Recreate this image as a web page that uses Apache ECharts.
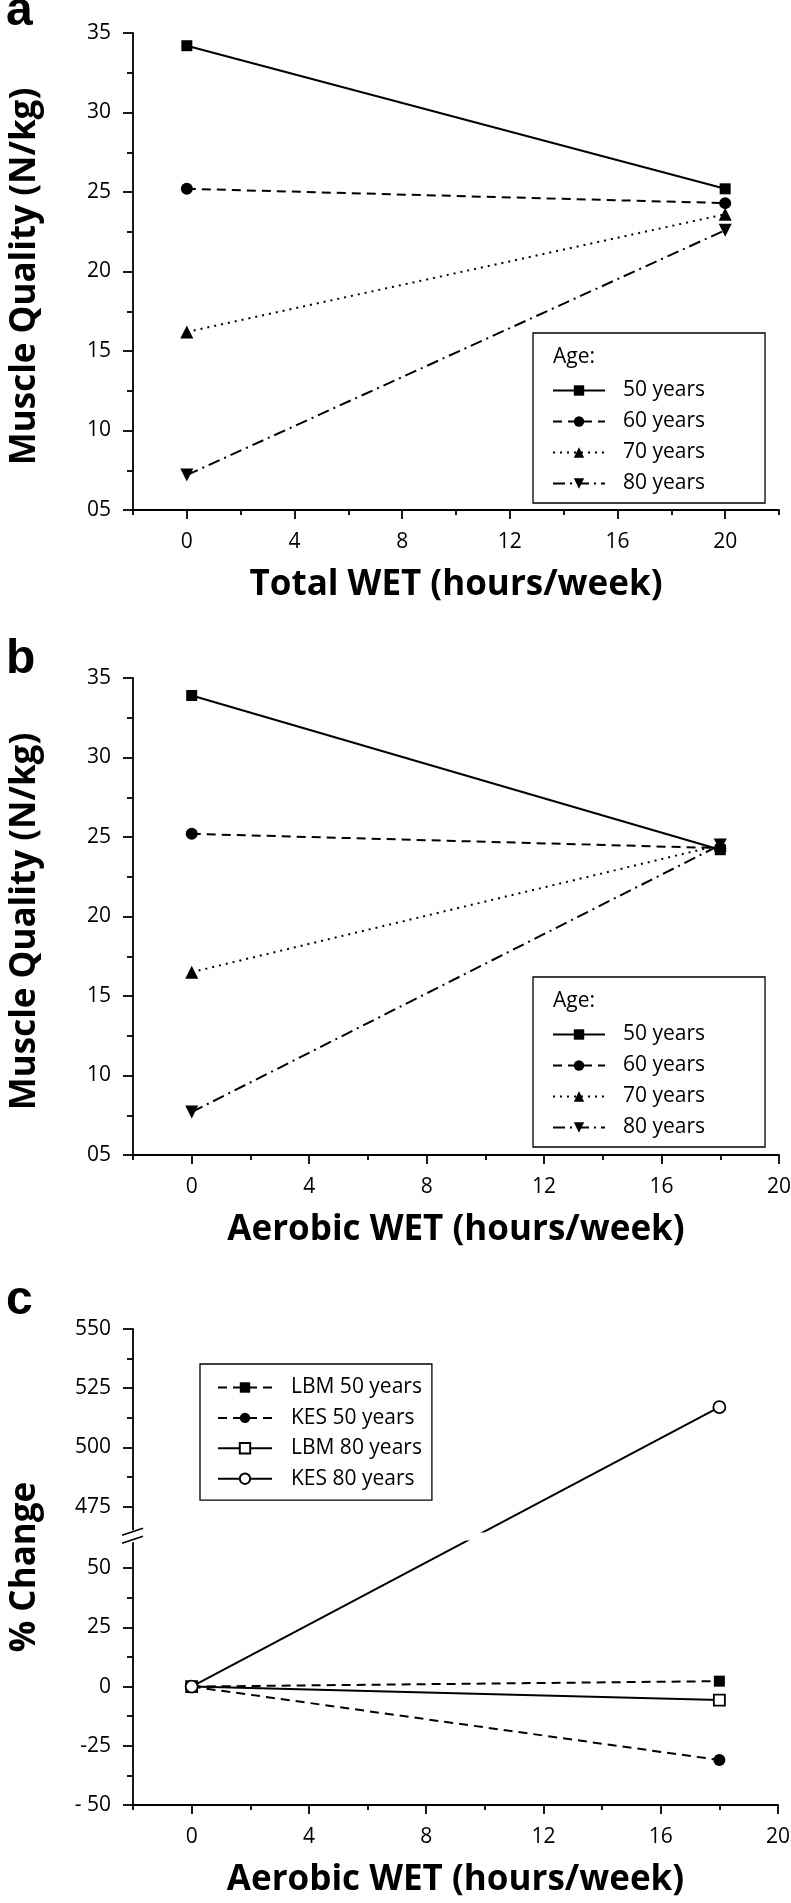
<!DOCTYPE html>
<html><head><meta charset="utf-8">
<script src="https://cdn.jsdelivr.net/npm/echarts@6/dist/echarts.min.js"></script>
<style>html,body{margin:0;padding:0;background:#fff}#c{width:791px;height:1903px}</style>
</head><body><div id="c"></div>
<script>
// ---------- data ----------
const hoursTotal = [0, 20];          // panel a x values (Total WET)
const hoursAerobic = [0, 18];        // panel b & c x values (Aerobic WET)
const ageNames = ['50 years', '60 years', '70 years', '80 years'];
// panel a: Muscle quality (N/kg) vs Total WET
const a50 = [34.2, 25.2];
const a60 = [25.2, 24.3];
const a70 = [16.2, 23.6];
const a80 = [7.2, 22.6];
// panel b: Muscle quality (N/kg) vs Aerobic WET
const b50 = [33.9, 24.2];
const b60 = [25.2, 24.3];
const b70 = [16.5, 24.5];
const b80 = [7.7, 24.5];
// panel c: % change vs Aerobic WET
const cNames = ['LBM 50 years', 'KES 50 years', 'LBM 80 years', 'KES 80 years'];
const lbm50 = [0, 2.3];
const kes50 = [0, -31];
const lbm80 = [0, -5.7];
const kes80 = [0, 517];
// tick values
const xMajorTicks = [0, 4, 8, 12, 16, 20];
const xMinorTicksA = [-2, 2, 6, 10, 14, 18, 22];
const xMinorTicksB = [-2, 2, 6, 10, 14, 18];
const cMajorTicks = [-50, -25, 0, 25, 50, 475, 500, 525, 550];
const cMinorTicks = [-37.5, -12.5, 12.5, 37.5, 487.5, 512.5, 537.5];

// ---------- styling ----------
const FONT = '"Open Sans", sans-serif';
const BLACK = '#000';
const AX = { color: BLACK, width: 1.8 };
const DASH = [9, 6];
const DOT = [2, 5];
const DASHDOT = [12, 5, 2, 5];
const C_BREAK = [{ start: 62, end: 464, gap: '1.5%' }];

const grids = [
  { left: 133, top: 33, width: 646, height: 477 },
  { left: 133, top: 678, width: 646, height: 477 },
  { left: 133, top: 1329, width: 645, height: 476 }
];

const TITLE_STYLE = { fontFamily: FONT, fontWeight: 'bold', fontSize: 35, color: BLACK };
const YTITLE_STYLE = Object.assign({ padding: [0, 10, 0, 0] }, TITLE_STYLE);

function xMain(gi, max, name) {
  return {
    type: 'value', gridIndex: gi, min: -2, max: max, position: 'bottom',
    name: name, nameLocation: 'middle', nameGap: 58,
    nameTextStyle: TITLE_STYLE,
    axisLine: { show: true, onZero: false, lineStyle: AX },
    axisTick: { show: true, customValues: xMajorTicks, length: 9, lineStyle: AX },
    axisLabel: { show: true, customValues: xMajorTicks, margin: 22, fontFamily: FONT, fontSize: 21, color: BLACK },
    splitLine: { show: false }
  };
}
function xMinor(gi, max, vals) {
  return {
    type: 'value', gridIndex: gi, min: -2, max: max, position: 'bottom',
    axisLine: { show: false, onZero: false },
    axisTick: { show: true, customValues: vals, length: 5, lineStyle: AX },
    axisLabel: { show: false },
    splitLine: { show: false }
  };
}
function yMQ(gi) {
  return {
    type: 'value', gridIndex: gi, min: 5, max: 35, interval: 5,
    name: 'Muscle Quality (N/kg)', nameLocation: 'middle', nameGap: 90, nameRotate: 90,
    nameTextStyle: YTITLE_STYLE,
    axisLine: { show: true, onZero: false, lineStyle: AX },
    axisTick: { show: true, length: 10, lineStyle: AX },
    minorTick: { show: true, splitNumber: 2, length: 6, lineStyle: AX },
    axisLabel: { margin: 22, fontFamily: FONT, fontSize: 21, color: BLACK,
      formatter: v => (v === 5 ? '05' : String(v)) },
    splitLine: { show: false }, minorSplitLine: { show: false }
  };
}

function pts(xs, ys) { return xs.map((x, i) => [x, ys[i]]); }
function ser(name, xi, yi, xs, ys, type, symbol, size, extra) {
  return Object.assign({
    name: name, type: 'line', xAxisIndex: xi, yAxisIndex: yi,
    data: pts(xs, ys), symbol: symbol, symbolSize: size, showSymbol: true,
    lineStyle: { color: BLACK, width: 2, type: type },
    itemStyle: { color: BLACK, borderColor: BLACK, borderWidth: 0 },
    emphasis: { disabled: true }, animation: false, z: 3
  }, extra || {});
}

const agesA = [a50, a60, a70, a80];
const agesB = [b50, b60, b70, b80];
const lineTypes = ['solid', DASH, DOT, DASHDOT];
const symbols = ['rect', 'circle', 'triangle', 'triangle'];
const sizes = [11, 12, 13, 13];
const rots = [0, 0, 0, 180];

const series = [];
ageNames.forEach((n, i) => {
  series.push(ser(n, 0, 0, hoursTotal, agesA[i], lineTypes[i], symbols[i], sizes[i], { symbolRotate: rots[i] }));
});
ageNames.forEach((n, i) => {
  series.push(ser(n, 2, 1, hoursAerobic, agesB[i], lineTypes[i], symbols[i], sizes[i], { symbolRotate: rots[i] }));
});
const hollow = { color: '#fff', borderColor: BLACK, borderWidth: 1.8 };
series.push(ser(cNames[0], 4, 2, hoursAerobic, lbm50, DASH, 'rect', 11));
series.push(ser(cNames[1], 4, 2, hoursAerobic, kes50, DASH, 'circle', 12));
series.push(ser(cNames[2], 4, 2, hoursAerobic, lbm80, 'solid', 'rect', 11, { itemStyle: hollow }));
series.push(ser(cNames[3], 4, 2, hoursAerobic, kes80, 'solid', 'circle', 12, { itemStyle: hollow }));

function legendAge(top) {
  return {
    data: ageNames.slice(), orient: 'vertical', left: 533, top: top,
    padding: [47, 60, 9, 19], itemWidth: 52, itemHeight: 13, itemGap: 10,
    borderColor: BLACK, borderWidth: 1.3, backgroundColor: '#fff',
    selectedMode: false,
    textStyle: { fontFamily: FONT, fontSize: 21, color: BLACK, lineHeight: 20, padding: [0, 0, 0, 13] }
  };
}
const LBL_FONT = '"Liberation Sans", Arial, sans-serif';

const option = {
  animation: false,
  backgroundColor: '#fff',
  grid: grids.map(g => Object.assign({ outerBoundsMode: 'none', containLabel: false }, g)),
  xAxis: [
    xMain(0, 22, 'Total WET (hours/week)'), xMinor(0, 22, xMinorTicksA),
    xMain(1, 20, 'Aerobic WET (hours/week)'), xMinor(1, 20, xMinorTicksB),
    xMain(2, 20, 'Aerobic WET (hours/week)'), xMinor(2, 20, xMinorTicksB)
  ],
  yAxis: [
    yMQ(0), yMQ(1),
    {
      type: 'value', gridIndex: 2, min: -50, max: 550, position: 'left',
      breaks: C_BREAK,
      breakArea: { show: true, itemStyle: { color: '#fff', borderColor: '#fff', borderWidth: 0, opacity: 1 },
        zigzagAmplitude: 0, expandOnClick: false },
      name: '% Change', nameLocation: 'middle', nameGap: 90, nameRotate: 90,
      nameTextStyle: TITLE_STYLE,
      axisLine: { show: true, onZero: false, lineStyle: AX },
      axisTick: { show: true, customValues: cMajorTicks, length: 10, lineStyle: AX },
      axisLabel: { customValues: cMajorTicks, margin: 22, fontFamily: FONT, fontSize: 21, color: BLACK,
        formatter: v => (v === -50 ? '- 50' : String(v)) },
      splitLine: { show: false }
    },
    {
      type: 'value', gridIndex: 2, min: -50, max: 550, position: 'left',
      breaks: C_BREAK,
      breakArea: { show: false },
      axisLine: { show: false, onZero: false },
      axisTick: { show: true, customValues: cMinorTicks, length: 6, lineStyle: AX },
      axisLabel: { show: false },
      splitLine: { show: false }
    }
  ],
  legend: [
    legendAge(333),
    legendAge(977),
    {
      data: cNames.slice(), orient: 'vertical', left: 200, top: 1364,
      padding: [13, 10, 11, 17], itemWidth: 54, itemHeight: 13, itemGap: 9.4,
      borderColor: BLACK, borderWidth: 1.3, backgroundColor: '#fff',
      selectedMode: false,
      textStyle: { fontFamily: FONT, fontSize: 21, color: BLACK, lineHeight: 20, padding: [0, 0, 0, 14] }
    }
  ],
  graphic: [
    { id: 'lblA', type: 'text', x: 6, y: 12, style: { text: 'a', fontFamily: LBL_FONT, fontWeight: 'bold', fontSize: 48, fill: BLACK, verticalAlign: 'middle' } },
    { id: 'lblB', type: 'text', x: 6, y: 660, style: { text: 'b', fontFamily: LBL_FONT, fontWeight: 'bold', fontSize: 48, fill: BLACK, verticalAlign: 'middle' } },
    { id: 'lblC', type: 'text', x: 6, y: 1301, style: { text: 'c', fontFamily: LBL_FONT, fontWeight: 'bold', fontSize: 48, fill: BLACK, verticalAlign: 'middle' } },
    { id: 'ageA', type: 'text', x: 553, y: 357, z: 100, style: { text: 'Age:', fontFamily: FONT, fontSize: 21, fill: BLACK, verticalAlign: 'middle' } },
    { id: 'ageB', type: 'text', x: 553, y: 1001, z: 100, style: { text: 'Age:', fontFamily: FONT, fontSize: 21, fill: BLACK, verticalAlign: 'middle' } }
  ],
  series: series
};

const chart = echarts.init(document.getElementById('c'), null, { renderer: 'canvas' });
chart.setOption(option);

// axis-break marks "//" on the panel c y axis
let ym = 1533;
try {
  const yTop = chart.convertToPixel({ yAxisIndex: 2 }, 464);
  const yBot = chart.convertToPixel({ yAxisIndex: 2 }, 62);
  if (isFinite(yTop) && isFinite(yBot)) ym = (yTop + yBot) / 2;
} catch (e) {}
chart.setOption({
  graphic: [
    { id: 'brkBg', type: 'rect', z: 200, shape: { x: 128, y: ym - 6, width: 10, height: 12 }, style: { fill: '#fff' } },
    { id: 'brk1', type: 'line', z: 201, shape: { x1: 122, y1: ym - 1, x2: 143, y2: ym - 8 }, style: { stroke: BLACK, lineWidth: 1.7 } },
    { id: 'brk2', type: 'line', z: 201, shape: { x1: 122, y1: ym + 7, x2: 143, y2: ym }, style: { stroke: BLACK, lineWidth: 1.7 } }
  ]
});
</script>
</body></html>
